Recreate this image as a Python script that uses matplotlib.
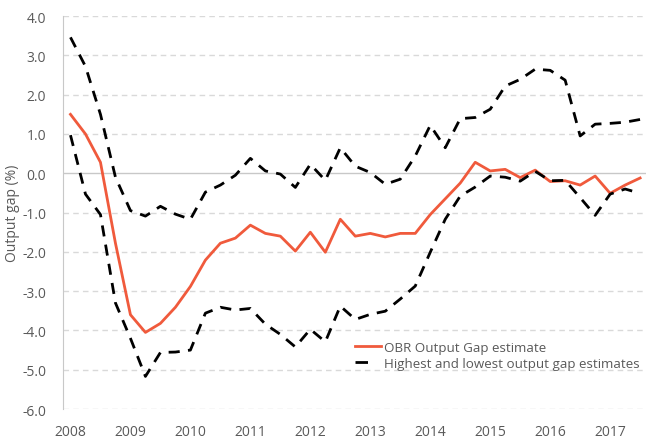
import matplotlib.pyplot as plt
import numpy as np

plt.rcParams['font.family'] = ['Open Sans', 'DejaVu Sans']

# quarterly, 2008 Q1 to 2017 Q3
years = ['2008', '2009', '2010', '2011', '2012', '2013', '2014', '2015', '2016', '2017']
obr = [1.5, 1.0, 0.28, -1.78, -3.6, -4.05, -3.82, -3.41, -2.88, -2.21,
       -1.78, -1.65, -1.32, -1.53, -1.6, -1.98, -1.5, -2.01, -1.17, -1.6,
       -1.53, -1.62, -1.53, -1.53, -1.05, -0.65, -0.25, 0.28, 0.06, 0.1,
       -0.11, 0.08, -0.21, -0.19, -0.3, -0.07, -0.51, -0.3, -0.12]
highest = [3.46, 2.72, 1.5, -0.1, -0.95, -1.09, -0.84, -1.04, -1.17, -0.48,
           -0.3, -0.05, 0.38, 0.06, -0.02, -0.36, 0.23, -0.18, 0.65, 0.18,
           0.02, -0.28, -0.15, 0.44, 1.22, 0.65, 1.39, 1.42, 1.63, 2.22,
           2.39, 2.65, 2.62, 2.37, 0.95, 1.25, 1.27, 1.3, 1.37]
lowest = [0.97, -0.53, -1.05, -3.3, -4.2, -5.17, -4.56, -4.55, -4.5, -3.56,
          -3.41, -3.48, -3.44, -3.84, -4.1, -4.42, -3.97, -4.29, -3.38, -3.72,
          -3.59, -3.51, -3.2, -2.87, -2.01, -1.17, -0.58, -0.35, -0.07, -0.1,
          -0.2, 0.05, -0.19, -0.18, -0.62, -1.07, -0.53, -0.4, -0.51]

grey = '#595959'
x = np.arange(len(obr))

fig = plt.figure(figsize=(6.46, 4.39), dpi=100)
ax = fig.add_axes([0.0975, 0.066, 0.905, 0.895])

ax.plot(x, obr, color='#F05A3C', lw=2, label='OBR Output Gap estimate')
ax.plot(x, highest, color='black', lw=2, dashes=(4, 3),
        label='Highest and lowest output gap estimates')
ax.plot(x, lowest, color='black', lw=2, dashes=(4, 3))

ax.set_xlim(-0.5, len(obr) - 0.5)
ax.set_ylim(-6, 4)
ax.set_yticks(np.arange(-6, 4.1, 1))
ax.set_yticklabels([f'{v:.1f}' for v in np.arange(-6, 4.1, 1)])
ax.set_xticks(x[::4])
ax.set_xticklabels(years)

for v in np.arange(-6, 4.1, 1):
    if v == 0:
        ax.axhline(0, color='#c8c8c8', lw=1, zorder=0)
    else:
        ax.axhline(v, color='#d9d9d9', lw=1, dashes=(4, 3), zorder=0)

for s in ['top', 'right', 'bottom']:
    ax.spines[s].set_visible(False)
ax.spines['left'].set_color('#c8c8c8')
ax.tick_params(axis='both', length=0, labelsize=10, labelcolor=grey)
ax.tick_params(axis='y', pad=12)
ax.tick_params(axis='x', pad=11)
ax.set_ylabel('Output gap (%)', fontsize=10, color=grey, labelpad=2)

leg = ax.legend(loc='lower right', bbox_to_anchor=(1.0, 0.08), frameon=False,
                fontsize=9.6, handlelength=1.9, handletextpad=0.25,
                labelspacing=0.2, borderaxespad=0.2)
for t in leg.get_texts():
    t.set_color(grey)
# single dash in the legend key, as in the original
leg.legend_handles[1].set_dashes((4.5, 10))

fig.savefig('out.png', dpi=100)
